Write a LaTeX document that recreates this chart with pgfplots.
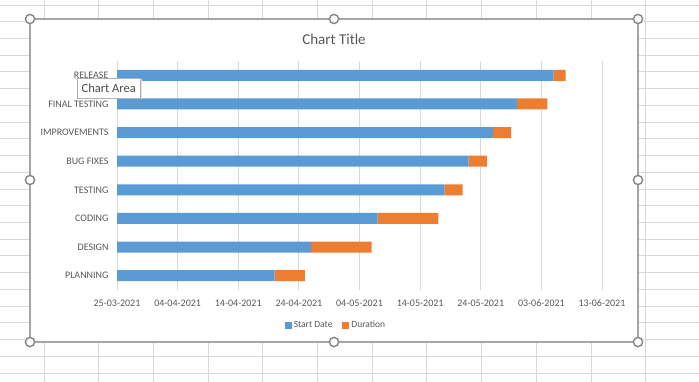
\documentclass[border=0pt]{standalone}
\usepackage{pgfplots}
\pgfplotsset{compat=1.18}
\usepackage{fontspec}
\setmainfont{Carlito}
\definecolor{barblue}{HTML}{5B9BD5}
\definecolor{barorange}{HTML}{ED7D31}
\definecolor{txt}{HTML}{595959}
\definecolor{gridc}{HTML}{D9D9D9}
\definecolor{cellc}{HTML}{D8D8D8}
\definecolor{framec}{HTML}{A6A6A6}
\definecolor{handlec}{HTML}{858585}
\begin{document}
\begin{tikzpicture}[x=1pt,y=1pt]
\useasboundingbox (0,0) rectangle (699,382);
\fill[white] (0,0) rectangle (699,382);
\foreach \k in {0,...,22} \draw[cellc, line width=0.9pt] (0,{377-16.73*\k}) -- (699,{377-16.73*\k});
\foreach \k in {0,...,11} \draw[cellc, line width=0.9pt] ({44+54.7*\k},0) -- ({44+54.7*\k},382);
\filldraw[fill=white, draw=framec, line width=1.3pt] (30,40) rectangle (638,363);
\begin{axis}[
  at={(117pt,92pt)}, anchor=south west,
  scale only axis, width=485pt, height=229pt,
  xbar stacked, bar width=11pt,
  xmin=0, xmax=80, ymin=-0.5, ymax=7.5,
  xtick={0,10,20,30,40,50,60,70,80},
  xticklabels={25-03-2021,04-04-2021,14-04-2021,24-04-2021,04-05-2021,14-05-2021,24-05-2021,03-06-2021,13-06-2021},
  ytick={0,1,2,3,4,5,6,7},
  yticklabels={PLANNING,DESIGN,CODING,TESTING,BUG FIXES,IMPROVEMENTS,FINAL TESTING,RELEASE},
  xmajorgrids, major grid style={gridc, line width=0.8pt},
  axis line style={draw=none}, major tick style={draw=none},
  tick label style={font=\fontsize{10}{12}\selectfont, text=txt},
  xticklabel style={yshift=-6pt},
  yticklabel style={xshift=-5pt},
  legend style={at={(0.4515,-0.153)}, anchor=center, draw=none, fill=none,
    legend columns=2, font=\fontsize{9.5}{11}\selectfont, text=txt,
    /tikz/every even column/.append style={column sep=8pt}},
  legend image code/.code={\fill[#1] (0pt,-3.5pt) rectangle (7pt,3.5pt);},
]
\addplot[fill=barblue, draw=none] coordinates {(26,0) (32,1) (43,2) (54,3) (58,4) (62,5) (66,6) (72,7)};
\addplot[fill=barorange, draw=none] coordinates {(5,0) (10,1) (10,2) (3,3) (3,4) (3,5) (5,6) (2,7)};
\legend{Start Date, Duration}
\end{axis}
\node[text=txt, font=\fontsize{15}{18}\selectfont] at (334,343) {Chart Title};
\fill[black!12] (78.5,282.5) rectangle (141.5,302.5);
\node[draw=black!30, fill=white, inner sep=0pt, minimum width=63pt, minimum height=20pt, anchor=north west, font=\fontsize{12.5}{14}\selectfont, text=black!70] at (77,304) {Chart Area};
\foreach \p in {(30,363),(334,363),(638,363),(30,202),(638,202),(30,40),(334,40),(638,40)}
  \filldraw[fill=white, draw=handlec, line width=1.4pt] \p circle (4.6);
\end{tikzpicture}
\end{document}
